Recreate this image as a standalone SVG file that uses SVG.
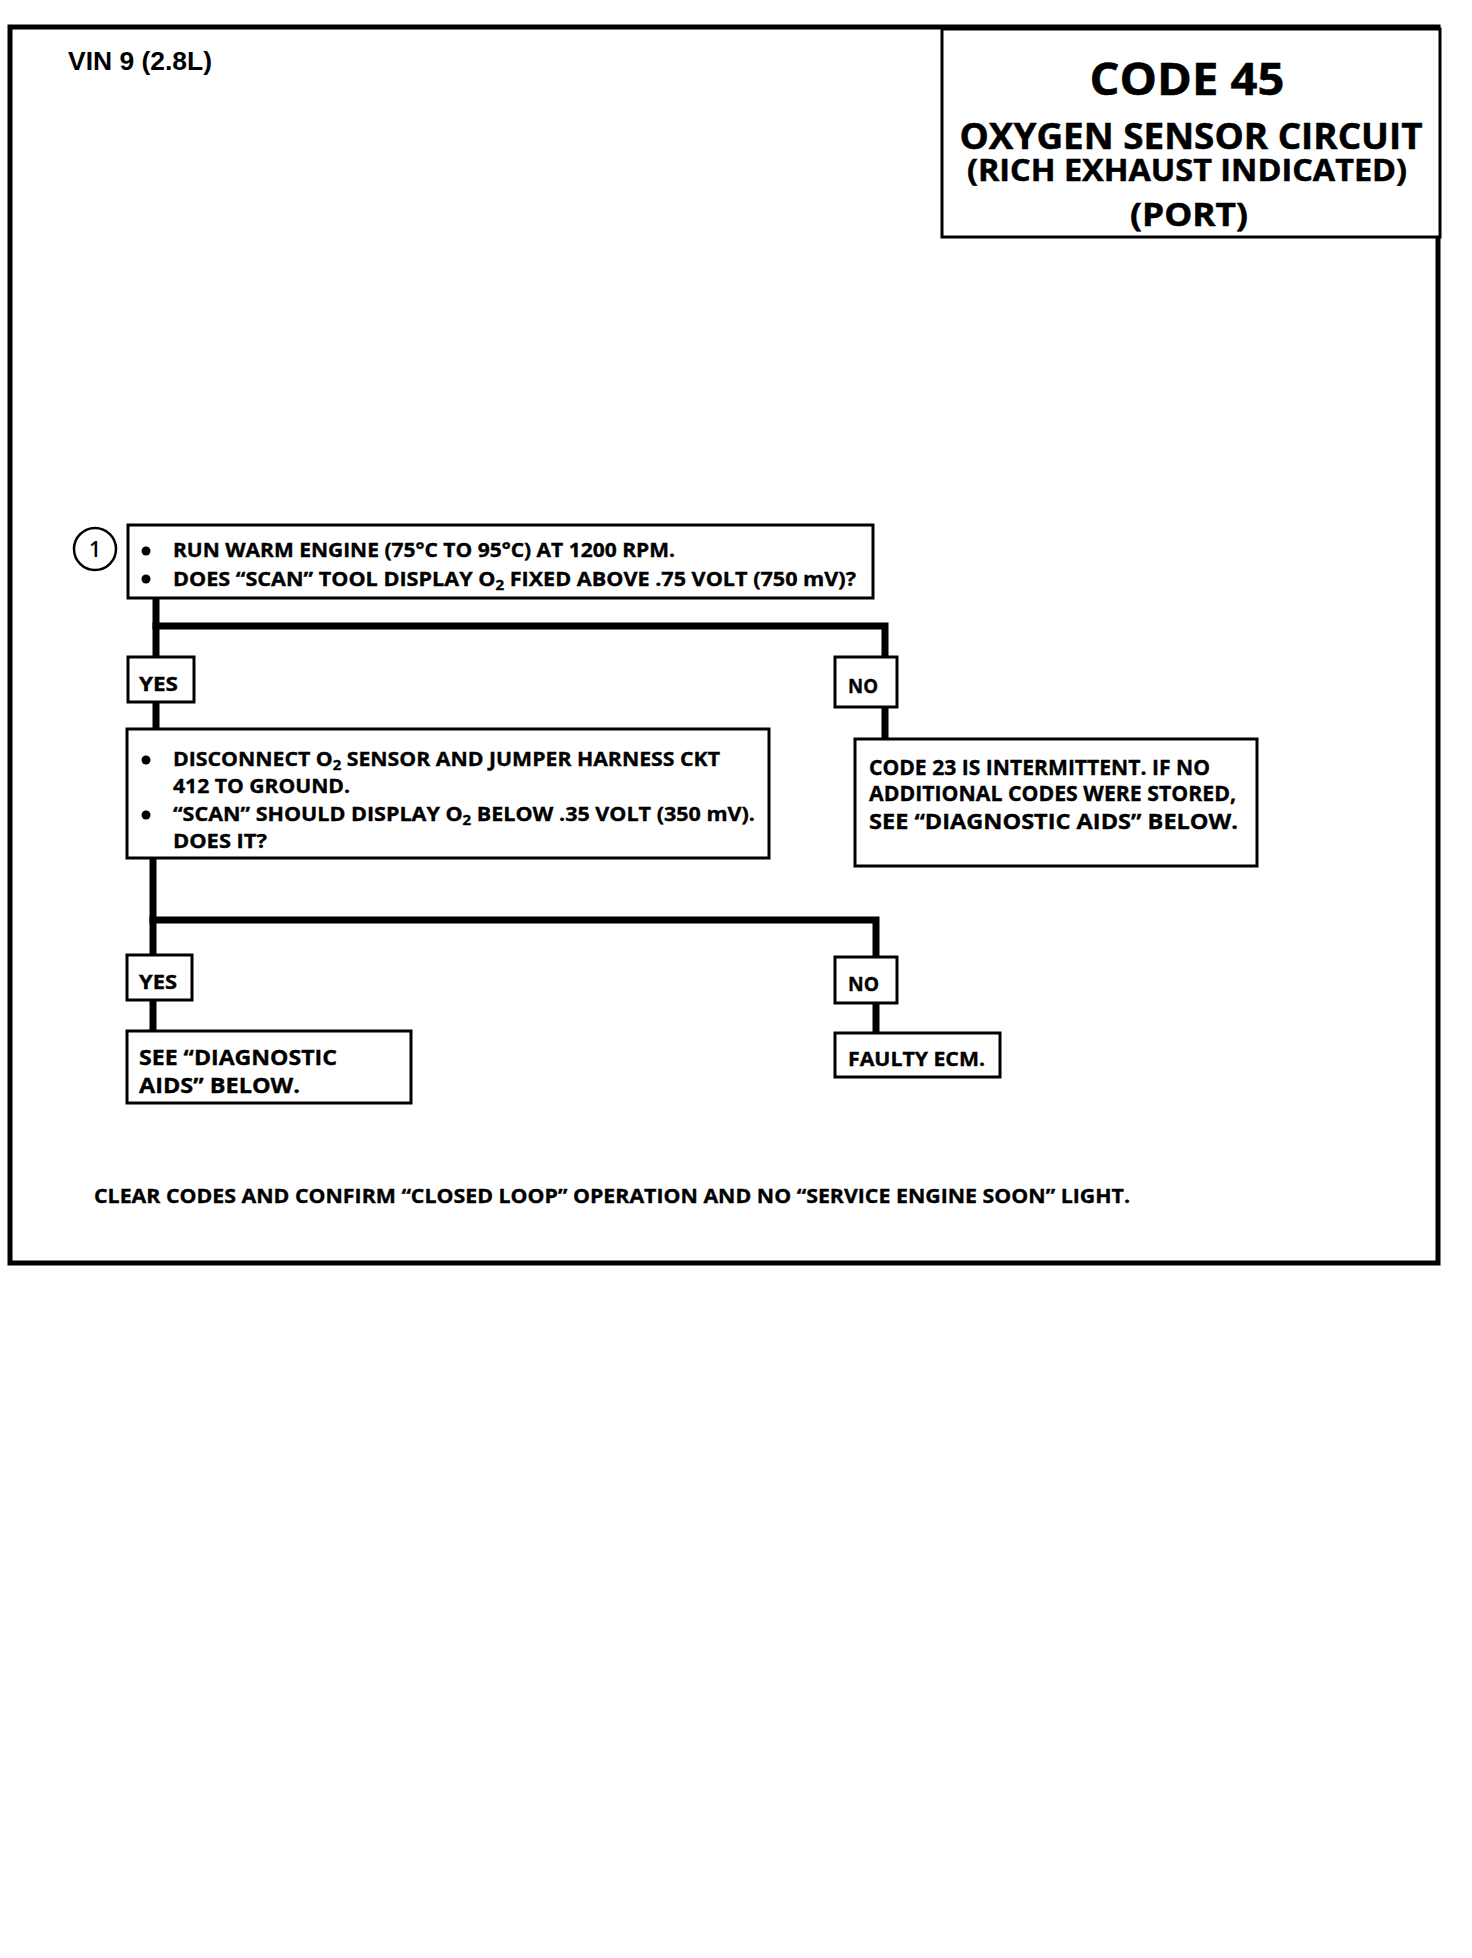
<svg xmlns="http://www.w3.org/2000/svg" width="1472" height="1958" viewBox="0 0 1472 1958">
<style>
.frame{fill:none;stroke:#000;stroke-width:5}
.box{fill:#fff;stroke:#000;stroke-width:3}
.conn{fill:none;stroke:#000;stroke-width:7;stroke-linecap:square;stroke-linejoin:miter}
.t{font-family:"Open Sans","Noto Sans","Liberation Sans",sans-serif;font-weight:bold;fill:#000;stroke:#000;stroke-width:0.35}
.vin{font-family:"Liberation Sans",Arial,sans-serif;font-weight:bold;fill:#000;font-size:26px}
.title{font-family:"Open Sans","Noto Sans","Liberation Sans",sans-serif;font-weight:bold;fill:#000;stroke:#000;stroke-width:0.5;text-anchor:middle}
.sub{font-size:70%}
</style>
<rect width="1472" height="1958" fill="#fff"/>
<rect class="frame" x="10" y="27" width="1428" height="1236"/>
<text class="vin" x="68" y="70" textLength="144" lengthAdjust="spacingAndGlyphs">VIN 9 (2.8L)</text>

<g id="title">
<rect class="box" x="942" y="29" width="498" height="208"/>
<text class="title" x="1187" y="95" font-size="44" textLength="195" lengthAdjust="spacingAndGlyphs">CODE 45</text>
<text class="title" x="1191" y="149" font-size="35" textLength="463" lengthAdjust="spacingAndGlyphs">OXYGEN SENSOR CIRCUIT</text>
<text class="title" x="1187" y="181" font-size="30" textLength="440" lengthAdjust="spacingAndGlyphs">(RICH EXHAUST INDICATED)</text>
<text class="title" x="1189" y="226" font-size="33" textLength="118" lengthAdjust="spacingAndGlyphs">(PORT)</text>
</g>

<g id="connectors">
<polyline class="conn" points="156,598 156,657"/>
<polyline class="conn" points="156,626 885,626 885,657"/>
<polyline class="conn" points="156,702 156,729"/>
<polyline class="conn" points="885,707 885,739"/>
<polyline class="conn" points="153,858 153,955"/>
<polyline class="conn" points="153,920 876,920 876,957"/>
<polyline class="conn" points="153,1000 153,1031"/>
<polyline class="conn" points="876,1003 876,1033"/>
</g>

<g id="step1">
<circle cx="95" cy="549" r="21" fill="#fff" stroke="#000" stroke-width="2.5"/>
<text x="95" y="557" font-size="21" text-anchor="middle" font-family="Open Sans, sans-serif" font-weight="600">1</text>
</g>

<g id="box1">
<rect class="box" x="128" y="525" width="745" height="73"/>
<circle cx="146" cy="551" r="4.5"/>
<circle cx="146" cy="579" r="4.5"/>
<text class="t" x="173" y="557" font-size="19" textLength="502" lengthAdjust="spacingAndGlyphs">RUN WARM ENGINE (75°C TO 95°C) AT 1200 RPM.</text>
<text class="t" x="173" y="586" font-size="19" textLength="683" lengthAdjust="spacingAndGlyphs">DOES “SCAN” TOOL DISPLAY O<tspan class="sub" dy="4">2</tspan><tspan dy="-4"> FIXED ABOVE .75 VOLT (750 mV)?</tspan></text>
</g>

<g id="yes1">
<rect class="box" x="128" y="657" width="66" height="45"/>
<text class="t" x="139" y="691" font-size="19" textLength="39" lengthAdjust="spacingAndGlyphs">YES</text>
</g>

<g id="no1">
<rect class="box" x="835" y="657" width="62" height="50"/>
<text class="t" x="848" y="693" font-size="19" textLength="30" lengthAdjust="spacingAndGlyphs">NO</text>
</g>

<g id="box2">
<rect class="box" x="127" y="729" width="642" height="129"/>
<circle cx="146" cy="760" r="4.5"/>
<circle cx="146" cy="815" r="4.5"/>
<text class="t" x="173" y="766" font-size="20" textLength="547" lengthAdjust="spacingAndGlyphs">DISCONNECT O<tspan class="sub" dy="4">2</tspan><tspan dy="-4"> SENSOR AND JUMPER HARNESS CKT</tspan></text>
<text class="t" x="173" y="793" font-size="20" textLength="177" lengthAdjust="spacingAndGlyphs">412 TO GROUND.</text>
<text class="t" x="173" y="821" font-size="20" textLength="582" lengthAdjust="spacingAndGlyphs">“SCAN” SHOULD DISPLAY O<tspan class="sub" dy="4">2</tspan><tspan dy="-4"> BELOW .35 VOLT (350 mV).</tspan></text>
<text class="t" x="173" y="848" font-size="20" textLength="94" lengthAdjust="spacingAndGlyphs">DOES IT?</text>
</g>

<g id="box3">
<rect class="box" x="855" y="739" width="402" height="127"/>
<text class="t" x="869" y="775" font-size="21" textLength="341" lengthAdjust="spacingAndGlyphs">CODE 23 IS INTERMITTENT.  IF NO</text>
<text class="t" x="869" y="801" font-size="21" textLength="367" lengthAdjust="spacingAndGlyphs">ADDITIONAL CODES WERE STORED,</text>
<text class="t" x="869" y="829" font-size="21" textLength="369" lengthAdjust="spacingAndGlyphs">SEE  “DIAGNOSTIC AIDS”  BELOW.</text>
</g>

<g id="yes2">
<rect class="box" x="127" y="955" width="65" height="45"/>
<text class="t" x="139" y="989" font-size="19" textLength="38" lengthAdjust="spacingAndGlyphs">YES</text>
</g>

<g id="no2">
<rect class="box" x="835" y="957" width="62" height="46"/>
<text class="t" x="848" y="991" font-size="19" textLength="31" lengthAdjust="spacingAndGlyphs">NO</text>
</g>

<g id="box4">
<rect class="box" x="127" y="1031" width="284" height="72"/>
<text class="t" x="139" y="1065" font-size="21" textLength="198" lengthAdjust="spacingAndGlyphs">SEE  “DIAGNOSTIC</text>
<text class="t" x="139" y="1093" font-size="21" textLength="161" lengthAdjust="spacingAndGlyphs">AIDS”  BELOW.</text>
</g>

<g id="box5">
<rect class="box" x="835" y="1033" width="165" height="44"/>
<text class="t" x="848" y="1066" font-size="19" textLength="137" lengthAdjust="spacingAndGlyphs">FAULTY ECM.</text>
</g>

<text class="t" x="94" y="1203" font-size="20" textLength="1036" lengthAdjust="spacingAndGlyphs">CLEAR CODES AND CONFIRM “CLOSED LOOP” OPERATION AND NO “SERVICE ENGINE SOON” LIGHT.</text>
</svg>
